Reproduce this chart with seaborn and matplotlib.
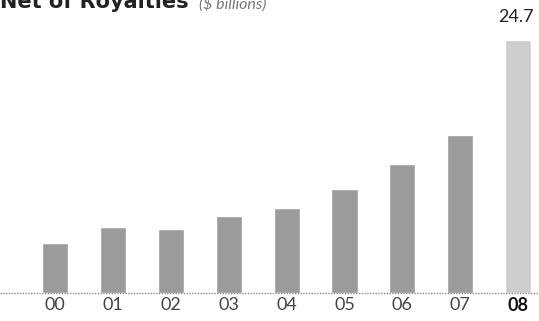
import matplotlib
matplotlib.use("Agg")
import matplotlib.pyplot as plt
import seaborn as sns
import pandas as pd

years = ["00", "01", "02", "03", "04", "05", "06", "07", "08"]
values = [4.9, 6.45, 6.25, 7.5, 8.3, 10.15, 12.6, 15.4, 24.7]
bar_colors = ["#9b9b9b"] * 8 + ["#cdcdcd"]
title = "Net of Royalties"
subtitle = "($ billions)"
top_label = "24.7"

sns.set_theme(style="white")
plt.rcParams["font.family"] = ["Lato", "DejaVu Sans"]

df = pd.DataFrame({"year": years, "value": values})

fig = plt.figure(figsize=(5.39, 3.21), dpi=100)
ax = fig.add_axes([0, 28 / 321, 1, 283 / 321])
sns.barplot(data=df, x="year", y="value", hue="year", palette=bar_colors,
            width=0.45, legend=False, ax=ax, saturation=1)

ax.set_xlim(-0.95, 8.36)
ax.set_ylim(0, 283 / 10.243)
for s in ax.spines.values():
    s.set_visible(False)
ax.set_yticks([])
ax.set_xlabel("")
ax.set_ylabel("")
ax.axhline(0, color="#8a8a8a", linestyle=(0, (1, 1)), linewidth=1.0, clip_on=False)
ax.tick_params(axis="x", length=0, pad=3, labelsize=13, labelcolor="#444444")
for i, lab in enumerate(ax.get_xticklabels()):
    if i == len(years) - 1:
        lab.set_fontweight("bold")
        lab.set_color("#111111")
    else:
        lab.set_fontweight("normal")

ax.text(8 - 0.03, values[-1] + 1.5, top_label, ha="center", va="bottom",
        fontsize=13, color="#222222", fontweight="normal")

fig.text(0.0, 1 - 8.5 / 321, title, fontsize=15, fontweight="bold",
         color="#222222", va="baseline", ha="left", family="DejaVu Sans")
fig.text(199 / 539, 1 - 8.5 / 321, subtitle, fontsize=11.5, style="italic",
         color="#777777", va="baseline", ha="left")

fig.savefig("out.png", dpi=100)
